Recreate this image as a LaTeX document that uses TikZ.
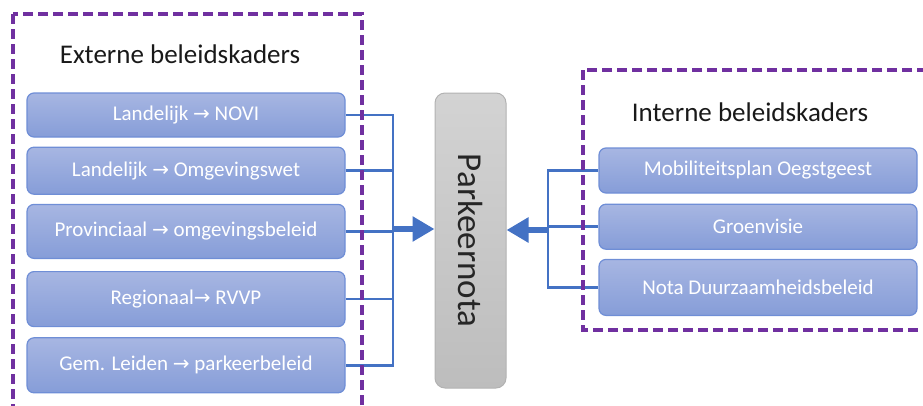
\documentclass[tikz,border=0pt]{standalone}
\usepackage{fontspec}
\setmainfont{Carlito}
\newfontfamily\pijlfont{DejaVu Sans}
\usetikzlibrary{positioning,arrows.meta}

\definecolor{paars}{HTML}{7030A0}
\definecolor{lijnblauw}{HTML}{4472C4}
\definecolor{randblauw}{HTML}{6F8ED6}
\definecolor{blauwboven}{HTML}{A7B6E2}
\definecolor{blauwonder}{HTML}{869DD8}
\definecolor{grijsboven}{HTML}{D3D3D3}
\definecolor{grijsonder}{HTML}{BDBDBD}

\newcommand{\naar}{{\pijlfont\fontsize{20}{22}\selectfont →}}

\tikzset{
  kader/.style={draw=randblauw, line width=1.2pt, rounded corners=7pt,
    top color=blauwboven, bottom color=blauwonder, text=white,
    minimum width=318pt, font=\fontsize{21}{24}\selectfont},
  kop/.style={font=\fontsize{27}{30}\selectfont, text=black!90},
  grens/.style={draw=paars, line width=3.5pt, dash pattern=on 10pt off 5pt},
  verbind/.style={draw=lijnblauw, line width=2.5pt},
  pijl/.style={draw=lijnblauw, line width=5.5pt, -{Triangle[width=24pt,length=22pt]}},
}

\begin{document}
\begin{tikzpicture}[x=1pt,y=-1pt]
  \clip (0,0) rectangle (923,405);

  % externe kaders
  \node[kop] (kopext) at (180,54) {Externe beleidskaders};
  \node[kader, minimum height=44pt] (l1) at (186,115) {Landelijk \naar{} NOVI};
  \node[kader, minimum height=47pt, below=9pt of l1] (l2) {Landelijk \naar{} Omgevingswet};
  \node[kader, minimum height=54pt, below=9pt of l2] (l3) {Provinciaal \naar{} omgevingsbeleid};
  \node[kader, minimum height=55pt, below=12pt of l3] (l4) {Regionaal\naar{} RVVP};
  \node[kader, minimum height=55pt, below=10pt of l4] (l5) {Gem. Leiden \naar{} parkeerbeleid};

  % interne kaders
  \node[kop] (kopint) at (750,112) {Interne beleidskaders};
  \node[kader, minimum height=45pt] (r1) at (758,170.5) {Mobiliteitsplan Oegstgeest};
  \node[kader, minimum height=45pt, below=10pt of r1] (r2) {Groenvisie};
  \node[kader, minimum height=56pt, below=9pt of r2] (r3) {Nota Duurzaamheidsbeleid};

  % parkeernota
  \node[draw=black!30, line width=1pt, rounded corners=10pt,
        top color=grijsboven, bottom color=grijsonder,
        minimum width=71pt, minimum height=295pt] (nota) at (470.5,240.5) {};
  \node[rotate=-90, font=\fontsize{35}{40}\selectfont, text=black!85] (notatekst) at (nota) {Parkeernota};

  % verbindingen
  \coordinate (lbus) at (393,229);
  \coordinate (rbus) at (548,230);
  \foreach \k in {l1,l2,l3,l4,l5}
    \draw[verbind] (\k.east) -| (lbus);
  \foreach \k in {r1,r2,r3}
    \draw[verbind] (\k.west) -| (rbus);
  \draw[pijl] (lbus) -- (lbus -| nota.west);
  \draw[pijl] (rbus) -- (rbus -| nota.east);

  % kaders rond de groepen
  \draw[grens] (13,14) rectangle (362,440);
  \draw[grens] (583,70) rectangle (960,330);
\end{tikzpicture}
\end{document}
